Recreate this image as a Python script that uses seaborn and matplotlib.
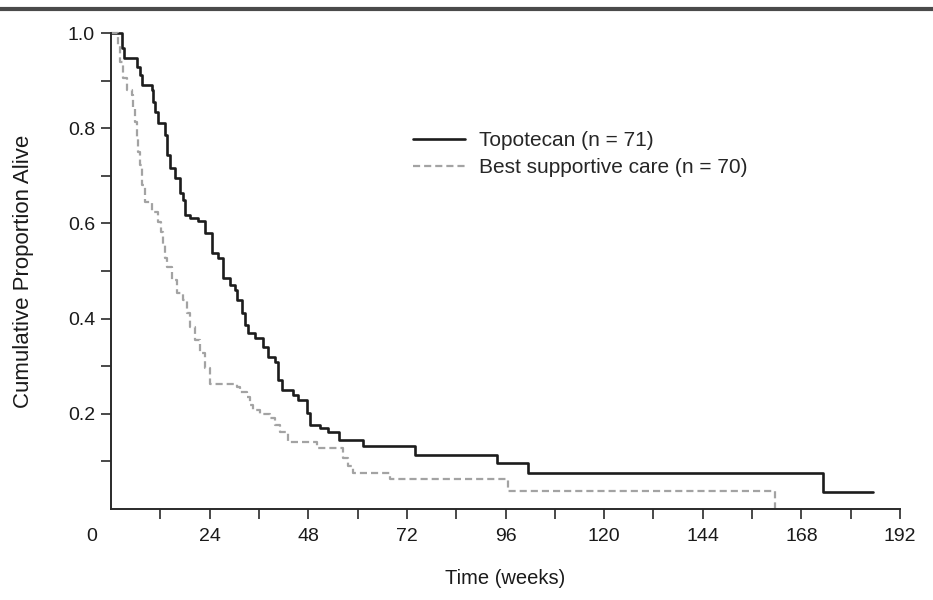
import numpy as np
import pandas as pd
import matplotlib
matplotlib.use("Agg")
import matplotlib.pyplot as plt
from matplotlib.lines import Line2D
from matplotlib.transforms import offset_copy
import seaborn as sns

# Kaplan-Meier step data (weeks, proportion alive)
topo_t = [0, 2.7, 3.2, 6.3, 7.1, 7.5, 10.0, 10.2, 10.7, 11.4, 13.1, 13.6, 14.4, 15.6,
          16.8, 17.5, 18.0, 19.2, 21.2, 22.9, 24.6, 26.0, 27.3, 29.0, 30.2, 30.7,
          31.9, 32.6, 33.3, 35.0, 37.0, 38.2, 39.9, 40.6, 41.6, 44.3, 45.5, 47.7,
          48.4, 50.9, 52.8, 55.5, 61.3, 74.0, 93.9, 101.5, 173.2, 185.4]
topo_s = [1.0, 0.968, 0.947, 0.929, 0.912, 0.891, 0.880, 0.855, 0.834, 0.811, 0.786,
          0.744, 0.716, 0.695, 0.664, 0.649, 0.618, 0.611, 0.605, 0.580, 0.538, 0.527,
          0.485, 0.471, 0.460, 0.439, 0.412, 0.387, 0.370, 0.359, 0.340, 0.319, 0.309,
          0.271, 0.250, 0.239, 0.229, 0.202, 0.176, 0.170, 0.162, 0.145, 0.132, 0.113,
          0.097, 0.076, 0.036, 0.036]

bsc_t = [0, 1.7, 2.2, 2.9, 3.9, 5.1, 5.4, 5.8, 6.3, 6.6, 7.1, 7.5, 8.3, 10.0, 11.4,
         12.2, 12.7, 13.1, 13.6, 14.8, 16.1, 17.5, 18.5, 19.2, 20.4, 21.7, 22.9, 24.1,
         30.7, 31.4, 33.1, 33.8, 34.5, 36.3, 38.7, 39.9, 41.1, 43.1, 50.1, 56.4, 57.7,
         58.9, 67.9, 96.6, 161.6]
bsc_s = [1.0, 0.975, 0.939, 0.905, 0.880, 0.870, 0.842, 0.813, 0.779, 0.750, 0.723,
         0.681, 0.645, 0.624, 0.603, 0.582, 0.555, 0.527, 0.508, 0.481, 0.454, 0.439,
         0.412, 0.382, 0.355, 0.328, 0.296, 0.263, 0.256, 0.246, 0.235, 0.218, 0.208,
         0.200, 0.191, 0.176, 0.162, 0.141, 0.128, 0.107, 0.090, 0.076, 0.063, 0.038,
         0.0]

groups = ["Topotecan (n = 71)", "Best supportive care (n = 70)"]
x_major = [24, 48, 72, 96, 120, 144, 168, 192]
x_minor = [12, 36, 60, 84, 108, 132, 156, 180]
y_major = [0.2, 0.4, 0.6, 0.8, 1.0]
y_minor = [0.1, 0.3, 0.5, 0.7, 0.9]

df = pd.concat([
    pd.DataFrame({"t": topo_t, "s": topo_s, "group": groups[0]}),
    pd.DataFrame({"t": bsc_t, "s": bsc_s, "group": groups[1]}),
], ignore_index=True)

sns.set_theme(style="ticks")
plt.rcParams["font.family"] = ["Liberation Sans", "DejaVu Sans"]

fig = plt.figure(figsize=(9.33, 6.0), dpi=100)
ax = fig.add_axes([111 / 933, 1 - 509 / 600, (900 - 111) / 933, (509 - 33) / 600])

sns.lineplot(data=df, x="t", y="s", hue="group", style="group",
             hue_order=groups, style_order=groups,
             palette={groups[0]: "#1c1c1c", groups[1]: "#a3a3a3"},
             dashes={groups[0]: "", groups[1]: (3.2, 1.8)},
             drawstyle="steps-post", estimator=None, sort=False,
             linewidth=1.9, ax=ax, legend=False, clip_on=False)
ax.lines[1].set_linewidth(1.6)

ax.set_xlim(0, 192)
ax.set_ylim(0, 1.0)
for sp in ["top", "right"]:
    ax.spines[sp].set_visible(False)
for sp in ["left", "bottom"]:
    ax.spines[sp].set_linewidth(1.4)
    ax.spines[sp].set_color("#2a2a2a")

ax.set_xticks(x_major)
ax.set_xticklabels([str(v) for v in x_major])
ax.set_xticks(x_minor, minor=True)
ax.set_yticks(y_major)
ax.set_yticklabels([f"{v:.1f}" for v in y_major])
ax.set_yticks(y_minor, minor=True)
ax.tick_params(axis="both", which="both", direction="out", length=7.5, width=1.2,
               color="#2a2a2a", labelcolor="#1a1a1a", labelsize=14)
ax.tick_params(axis="x", which="major", pad=6)
ax.tick_params(axis="y", which="major", pad=4)

# origin label
ax.text(0, 0, "0", transform=offset_copy(ax.transData, fig=fig, x=-14, y=-14, units="points"),
        ha="center", va="top", fontsize=14, color="#1a1a1a")

ax.set_xlabel("Time (weeks)", fontsize=14.5, color="#1a1a1a")
ax.set_ylabel("Cumulative Proportion Alive", fontsize=16, color="#1a1a1a")
ax.xaxis.set_label_coords(0.5, -0.125)
ax.yaxis.set_label_coords(-0.098, 0.5)

ax.legend([ax.lines[0], ax.lines[1]], groups, loc="upper left",
          bbox_to_anchor=((413 - 111) / 789, (509 - 131) / 476),
          frameon=False, fontsize=15, handlelength=2.5, handletextpad=0.65,
          labelspacing=0.4, borderpad=0, borderaxespad=0)

fig.add_artist(Line2D([0, 1], [1 - 9 / 600, 1 - 9 / 600], transform=fig.transFigure,
                      color="#4a4a4a", linewidth=3))

fig.savefig("out.png", dpi=100)
